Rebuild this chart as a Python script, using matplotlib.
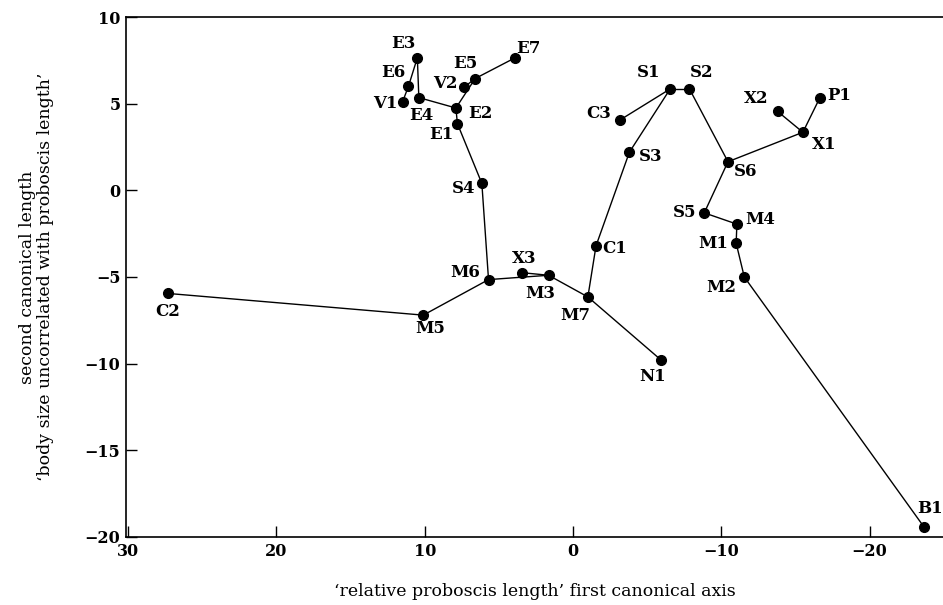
"""
Canonical variate plot with minimum spanning tree links between samples.
"""
import matplotlib
matplotlib.use("Agg")
import matplotlib.pyplot as plt
import matplotlib.ticker as ticker

OUT_FILE = "out.png"

# sample positions (first axis, second axis)
names = ["E3", "E6", "V1", "E4", "E2", "E1", "V2", "E5", "E7", "S4",
         "S1", "S2", "C3", "S3", "S6", "X2", "P1", "X1", "S5", "M4",
         "M1", "M2", "C1", "C2", "M5", "M6", "X3", "M3", "M7", "N1", "B1"]
axis1 = [10.5, 11.1, 11.5, 10.4, 7.9, 7.8, 7.35, 6.6, 3.9, 6.15,
         -6.55, -7.85, -3.15, -3.8, -10.45, -13.8, -16.65, -15.5, -8.85, -11.05,
         -11.0, -11.55, -1.55, 27.3, 10.1, 5.7, 3.45, 1.65, -1.0, -5.95, -23.65]
axis2 = [7.65, 6.0, 5.1, 5.35, 4.75, 3.85, 5.95, 6.45, 7.65, 0.4,
         5.85, 5.85, 4.05, 2.2, 1.65, 4.55, 5.35, 3.35, -1.3, -1.95,
         -3.05, -5.0, -3.2, -5.95, -7.2, -5.15, -4.75, -4.9, -6.15, -9.8, -19.4]

# tree links
links = [("E3", "E6"), ("E6", "V1"), ("E3", "E4"), ("E4", "E2"), ("E2", "E1"),
         ("E2", "E5"), ("V2", "E5"), ("E5", "E7"), ("E1", "S4"), ("S4", "M6"),
         ("C2", "M5"), ("M5", "M6"), ("M6", "M3"), ("X3", "M3"), ("M3", "M7"),
         ("M7", "N1"), ("M7", "C1"), ("C1", "S3"), ("S3", "S1"), ("C3", "S1"),
         ("S1", "S2"), ("S2", "S6"), ("S6", "X1"), ("X1", "X2"), ("X1", "P1"),
         ("S6", "S5"), ("S5", "M4"), ("M4", "M1"), ("M1", "M2"), ("M2", "B1")]

# label offsets in pixels (right, down) relative to each dot
label_dx = [-14, -15, -17, 2, 24, -16, -19, -10, 13, -18,
            -22, 12, -21, 21, 18, -21, 19, 21, -20, 23,
            -23, -23, 19, -1, 7, -23, 2, -8, -13, -9, 6]
label_dy = [-14, -14, 2, 18, 5, 11, -4, -15, -9, 5,
            -16, -16, -7, 4, 10, -13, -2, 12, 0, -5,
            0, 11, 3, 18, 13, -7, -14, 18, 19, 16, -18]

pos = {n: (a, b) for n, a, b in zip(names, axis1, axis2)}

SERIF = ["DejaVu Serif"]

fig = plt.figure(figsize=(9.43, 6.05), dpi=100)
fig.patch.set_facecolor("white")
ax = fig.add_axes([0.1336, 0.1124, 0.8664, 0.8595])

for a, b in links:
    ax.plot([pos[a][0], pos[b][0]], [pos[a][1], pos[b][1]],
            color="black", lw=1.0, zorder=2)

ax.plot(axis1, axis2, "o", color="black", ms=7, zorder=3)

for n, x, y, dx, dy in zip(names, axis1, axis2, label_dx, label_dy):
    ax.annotate(n, (x, y), xytext=(dx * 0.72, -dy * 0.72), textcoords="offset points",
                ha="center", va="center", fontsize=12, fontweight="bold",
                family=SERIF)

ax.set_xlim(30.15, -24.95)
ax.set_ylim(-20, 10)
ax.xaxis.set_major_locator(ticker.MultipleLocator(10))
ax.yaxis.set_major_locator(ticker.MultipleLocator(5))
ax.xaxis.set_major_formatter(ticker.FuncFormatter(lambda v, _: f"{int(v)}".replace("-", "\u2212")))
ax.yaxis.set_major_formatter(ticker.FuncFormatter(lambda v, _: f"{int(v)}".replace("-", "\u2212")))

ax.spines["right"].set_visible(False)
for s in ["left", "bottom", "top"]:
    ax.spines[s].set_linewidth(1.2)

ax.tick_params(direction="in", length=8, width=1, labelsize=11.5, pad=4,
               top=False, right=False)
for lab in ax.get_xticklabels() + ax.get_yticklabels():
    lab.set_fontweight("bold")
    lab.set_family(SERIF)

ax.set_xlabel("\u2018relative proboscis length\u2019 first canonical axis",
              fontsize=12.5, family=SERIF, labelpad=17)
ax.set_ylabel("second canonical length\n\u2018body size uncorrelated with proboscis length\u2019",
              fontsize=12.5, family=SERIF, labelpad=22, linespacing=1.1)

plt.savefig(OUT_FILE, dpi=100, facecolor="white")
